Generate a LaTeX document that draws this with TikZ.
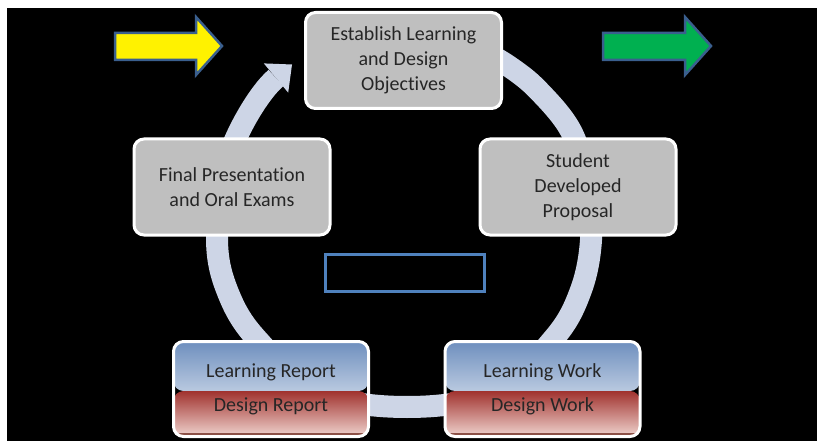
\documentclass[tikz,border=0pt]{standalone}
\usepackage{fontspec}
\setsansfont{Carlito}[Ligatures={NoCommon,NoRare}]

\definecolor{panelgray}{RGB}{191,191,191}
\definecolor{bandblue}{RGB}{205,213,230}
\definecolor{edgeblue}{RGB}{58,95,142}
\definecolor{frameblue}{RGB}{79,129,189}
\definecolor{gogreen}{RGB}{0,176,80}
\definecolor{textgray}{RGB}{38,38,38}
\definecolor{steeltop}{RGB}{110,143,190}
\definecolor{steelmid}{RGB}{196,212,232}
\definecolor{redtop}{RGB}{160,50,46}
\definecolor{redmid}{RGB}{196,92,86}
\definecolor{redlow}{RGB}{240,212,207}
\definecolor{redline}{RGB}{140,80,70}

\begin{document}
\begin{tikzpicture}[x=1pt,y=-1pt,
    stage node/.style={rectangle,rounded corners=10pt,draw=white,line width=3pt,
      fill=panelgray,text=textgray,font=\sffamily\fontsize{20}{25}\selectfont,
      align=center,inner sep=0pt,minimum width=196pt,minimum height=96pt},
    split node/.style={stage node,fill=none,text=black!85,
      minimum width=195pt,minimum height=95pt,
      font=\sffamily\fontsize{20}{34}\selectfont,
      path picture={
        \shade[top color=steeltop,middle color=steelmid,bottom color=white]
          (path picture bounding box.north west) rectangle
          ([yshift=-2pt]path picture bounding box.east);
        \shade[top color=redtop,middle color=redmid,bottom color=redlow]
          ([yshift=-2pt]path picture bounding box.west) rectangle
          (path picture bounding box.south east);
        \draw[redline,line width=1.5pt]
          ([yshift=2.5pt]path picture bounding box.south west) --
          ([yshift=2.5pt]path picture bounding box.south east);
      }},
    note frame/.style={rectangle,draw=frameblue,line width=3pt,
      minimum width=159pt,minimum height=37pt,inner sep=0pt},
    band/.style={draw=bandblue,line width=22pt},
    block arrow/.style={draw=edgeblue,line width=2.5pt,line join=miter}]

  \useasboundingbox (0,0) rectangle (817,441);
  \fill[white] (0,0) rectangle (817,441);
  \fill[black] (7,8) rectangle (817,441);

  % the cycle band, drawn under the boxes
  \draw[band] plot[smooth,tension=0.6] coordinates {(480,50) (507,65) (538,90)
      (572,133) (588,190) (591,240) (581,290) (555,337) (495,392) (407,407)
      (318,392) (255,337) (227,290) (217,240) (225,170)}
    .. controls (231,140) and (258,93) .. (276,78);
  \fill[bandblue] (263.8,63.4) -- (292,64.5) -- (288.2,92.6) -- cycle;

  \node[stage node] (objectives) at (403.5,60.5) {Establish Learning\\and Design\\Objectives};
  \node[stage node] (proposal) at (578,187) {Student\\Developed\\Proposal};
  \node[stage node] (finals) at (232,187) {Final Presentation\\and Oral Exams};
  \node[split node] (report) at (271,389) {Learning Report\\Design Report};
  \node[split node] (work) at (542.5,389) {Learning Work\\Design Work};
  \node[note frame] (note) at (405,273) {};

  % input and output arrows
  \draw[block arrow,fill=yellow] (115,33) -- (196,33) -- (196,17) -- (222,46)
    -- (196,75) -- (196,60) -- (115,60) -- cycle;
  \draw[block arrow,fill=gogreen] (603,33) -- (685,33) -- (685,17) -- (711,46)
    -- (685,75) -- (685,60) -- (603,60) -- cycle;
\end{tikzpicture}
\end{document}
